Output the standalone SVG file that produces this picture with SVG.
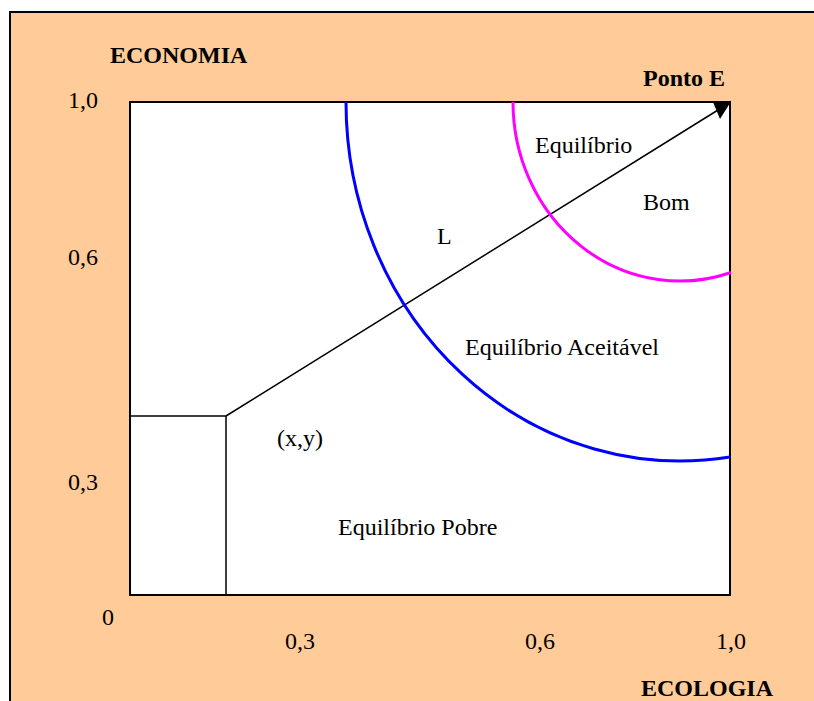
<svg xmlns="http://www.w3.org/2000/svg" width="814" height="701" viewBox="0 0 814 701">
<style>
text{font-family:"Liberation Serif","Times New Roman",serif;font-size:24px;fill:#000}
.b{font-weight:bold}
.curve{fill:none;stroke-width:3}
</style>
<rect x="0" y="0" width="814" height="701" fill="#ffffff"/>
<rect id="frame" x="10" y="12" width="900" height="800" fill="#FFCC99" stroke="#000" stroke-width="2"/>
<g id="plot">
<rect x="130" y="102" width="600" height="493" fill="#ffffff" stroke="#000" stroke-width="2"/>
</g>
<g id="connectors">
<polyline points="130,416 226,416 226,595" fill="none" stroke="#000" stroke-width="1.5"/>
<line x1="226" y1="416" x2="718" y2="110" stroke="#000" stroke-width="1.5"/>
<polygon points="731,101.5 713,102 720,119" fill="#000"/>
<path class="curve" stroke="#0000FF" d="M346,102 A334,359 0 0 0 730,457"/>
<path class="curve" stroke="#FF00FF" d="M513,102 A167,179 0 0 0 731,272.5"/>
</g>
<g id="labels">
<text class="b" x="110" y="63">ECONOMIA</text>
<text class="b" x="643" y="86">Ponto E</text>
<text class="b" x="641" y="696">ECOLOGIA</text>
<text x="68" y="108">1,0</text>
<text x="68" y="265">0,6</text>
<text x="68" y="490">0,3</text>
<text x="102" y="625">0</text>
<text x="285" y="649">0,3</text>
<text x="525" y="649">0,6</text>
<text x="716" y="649">1,0</text>
<text x="535" y="153">Equilíbrio</text>
<text x="643" y="210">Bom</text>
<text x="437" y="244">L</text>
<text x="465" y="355">Equilíbrio Aceitável</text>
<text x="277" y="446">(x,y)</text>
<text x="338" y="535">Equilíbrio Pobre</text>
</g>
</svg>
